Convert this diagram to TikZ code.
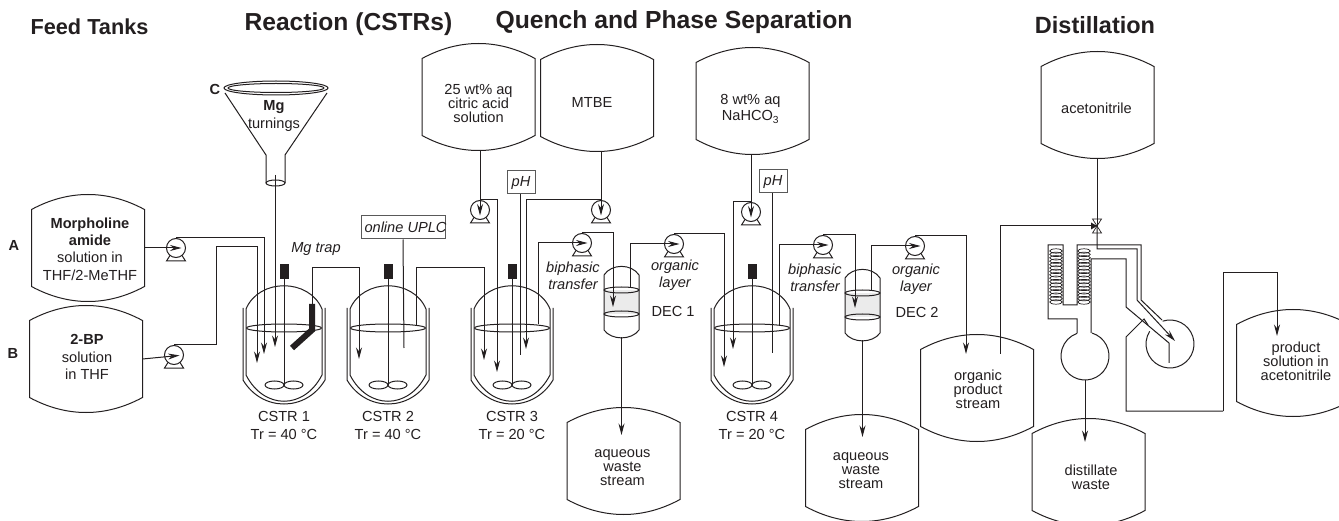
\documentclass[tikz,border=0pt]{standalone}
\usepackage{fontspec}
\setmainfont{Liberation Sans}
\usetikzlibrary{calc, arrows.meta, shapes.geometric}
\definecolor{ink}{HTML}{231F20}
\tikzset{
    heading/.style={font=\fontsize{#1}{26}\selectfont\bfseries, text=ink},
    tanktext/.style={font=\fontsize{14.6}{14}\selectfont, align=center, text=ink},
    roomy/.style={font=\fontsize{14.6}{17.3}\selectfont, align=center, text=ink},
    slanted/.style={font=\fontsize{14.6}{17}\selectfont\itshape, align=center, text=ink},
    tankbox/.style={minimum width=112, minimum height=106, inner sep=0},
    level/.style={draw, ellipse, minimum width=75, minimum height=8, inner sep=0},
    motor/.style={fill=ink, minimum width=9, minimum height=15, inner sep=0},
    pumphead/.style={draw, circle, minimum size=19, inner sep=0},
    probe/.style={draw=black!65, inner sep=0, font=\fontsize{14.6}{17}\selectfont\itshape, text=ink},
    flow/.style={-{Stealth[length=11.5pt, width=6pt]}},
    into/.style={flow, shorten >=4.5pt}
}
\newcommand{\tank}[5]{
    \node[tankbox] (T_#1) at (#2,#3) {};
    \draw ($(T_#1.north west)+(0,15)$) .. controls +(37,-20) and +(-37,-20) .. ($(T_#1.north east)+(0,15)$)
        -- ($(T_#1.south east)+(0,-15)$) .. controls +(-37,20) and +(37,20) .. ($(T_#1.south west)+(0,-15)$) -- cycle;
    \node[tanktext] (X_#1) at ($(T_#1)+(#4)$) {#5};
}
\newcommand{\pump}[3]{
    \node[pumphead] (P_#1) at (#2,#3) {};
    \draw ($(P_#1)+(-6,7.5)$) -- ($(P_#1)+(-9.5,13)$) -- ($(P_#1)+(9.5,13)$) -- ($(P_#1)+(6,7.5)$);
}
\newcommand{\cstr}[4]{
    \begin{scope}[shift={(#2,328)}]
        \node[level] (C_#1) at (0,0) {};
        \node[motor] (M_#1) at (0,-56.5) {};
        \coordinate (H_#1) at (0,57);
        \draw (-41,-20) -- (-41,52) .. controls (-22,84) and (22,84) .. (41,52) -- (41,-20);
        \draw (-38,-19) .. controls (-25,-50) and (25,-50) .. (38,-19) -- (38,47)
            .. controls (20,82) and (-20,82) .. (-38,47) -- cycle;
        \draw (M_#1) -- (H_#1);
        \draw (H_#1) ++(-19,0) arc[start angle=180, delta angle=360, x radius=9.5, y radius=4];
        \draw (H_#1) ++(0,0) arc[start angle=180, delta angle=360, x radius=9.5, y radius=4];
        \node[roomy] (N_#1) at (0,97.5) {CSTR #3\\Tr = #4 °C};
    \end{scope}
}
\newcommand{\decanter}[3]{
    \begin{scope}[shift={(#2,#3)}]
        \node[minimum width=35, minimum height=71, inner sep=0] (D_#1) at (0,0) {};
        \fill[black!8] (-17.5,-11.5) rectangle (17.5,12.5);
        \draw (-17.5,-26.5) .. controls (-10,-38) and (10,-38) .. (17.5,-26.5) -- (17.5,28.5)
            .. controls (10,39) and (-10,39) .. (-17.5,28.5) -- cycle;
        \draw (0,-11.5) ellipse [x radius=17.5, y radius=3];
        \draw (0,12.5) ellipse [x radius=17.5, y radius=3];
    \end{scope}
}
\newcommand{\coil}[2]{
    \foreach \turn in {0,...,15} {
        \draw[line width=.7pt] (#1,#2+\turn*3.4) ellipse [x radius=6.3, y radius=2.2];
    }
}
\begin{document}
\begin{tikzpicture}[x=1pt, y=-1pt, line width=1pt, draw=ink]
            \path[use as bounding box, clip] (0,0) rectangle (1339,521);
            \fill[white] (0,0) rectangle (1339,521);
            \node[heading=21.7] (H_F) at (89.5,27) {Feed Tanks};
            \node[heading=24.6] (H_R) at (348.5,24) {Reaction (CSTRs)};
            \node[heading=24.7] (H_Q) at (674,22) {Quench and Phase Separation};
            \node[heading=23.5] (H_D) at (1095,25) {Distillation};
            \tank{A}{88}{248}{2,1}{\textbf{Morpholine}\\[3.3pt]\textbf{amide}\\[3.3pt]solution in\\[3.3pt]THF/2-MeTHF}
            \tank{B}{86}{359}{1,-2}{\textbf{2-BP}\\[3.3pt]solution\\[3.3pt]in THF}
            \tank{CA}{478.5}{97}{0,6}{25 wt\% aq\\citric acid\\solution}
            \tank{MT}{597}{98}{-5,4}{MTBE}
            \tank{NA}{752.5}{101}{-2,8}{8 wt\% aq\\[2pt]NaHCO\textsubscript{3}}
            \tank{AN}{1097.5}{105}{-1,3}{acetonitrile}
            \tank{W1}{623.5}{461}{-1,7}{aqueous\\waste\\stream}
            \tank{W2}{862}{468}{-1,3}{aqueous\\waste\\stream}
            \tank{OP}{977}{388}{1,1}{organic\\product\\stream}
            \tank{DW}{1088.5}{472}{2.5,5}{distillate\\waste}
            \tank{PS}{1293}{363}{3,-2}{product\\solution in\\acetonitrile}
            \node[font=\fontsize{14.6}{17}\selectfont\bfseries, text=ink] (L_A) at (14,245) {A};
            \node[font=\fontsize{14.6}{17}\selectfont\bfseries, text=ink] (L_B) at (13,353) {B};
            \cstr{1}{284}{1}{40}
            \cstr{2}{388}{2}{40}
            \cstr{3}{512}{3}{20}
            \cstr{4}{752}{4}{20}
            \decanter{1}{621.5}{301.5}
            \decanter{2}{862.5}{304.5}
            \pump{A}{176}{248}
            \pump{B}{174}{355}
            \pump{CA}{480}{210}
            \pump{MT}{601}{210}
            \pump{B1}{582}{243}
            \pump{O1}{674}{244}
            \pump{NA}{751}{212}
            \pump{B2}{823}{245}
            \pump{O2}{915}{246}
            \draw (225,93) -- (266,155) -- (266,183);
            \draw (327,93) -- (285,155) -- (285,183);
            \draw (276,88) ellipse [x radius=52, y radius=7];
            \draw (276,88) ellipse [x radius=48, y radius=4.5];
            \draw (275.5,183) ellipse [x radius=9.5, y radius=3];
            \node[font=\fontsize{14.6}{17}\selectfont\bfseries, text=ink] (F_C) at (215,89) {C};
            \node[roomy] (F_M) at (274,116) {\textbf{Mg}\\turnings};
            \node[slanted] (N_T) at (316,249) {Mg trap};
            \node[probe, minimum width=84, minimum height=23] (U) at (403,227.5) {};
            \node[slanted] (N_U) at (405.5,227) {online UPLC};
            \node[probe, minimum width=28, minimum height=23] (Q_3) at (521,182.5) {pH};
            \node[probe, minimum width=28, minimum height=23] (Q_4) at (773,181.5) {pH};
            \node[slanted] (N_B1) at (573,275.5) {biphasic\\transfer};
            \node[slanted] (N_O1) at (675,275.5) {organic\\layer};
            \node[roomy] (N_D1) at (673,311) {DEC 1};
            \node[slanted] (N_B2) at (815,277.5) {biphasic\\transfer};
            \node[slanted] (N_O2) at (916,279.5) {organic\\layer};
            \node[roomy] (N_D2) at (917,312) {DEC 2};
            \draw[line width=6pt] (312,304) -- (312,330) -- (292,348);
            \coordinate (I_A) at (264,354);
            \coordinate (I_B) at (257,363);
            \coordinate (I_M) at (275,347);
            \coordinate (I_2) at (359,359);
            \coordinate (I_3) at (484,360);
            \coordinate (I_C) at (497,372);
            \coordinate (I_T) at (526,349);
            \coordinate (I_D1) at (613,307);
            \coordinate (I_4) at (724,367);
            \coordinate (I_N) at (733,349);
            \coordinate (I_D2) at (855,308);
            \coordinate (I_O) at (966,354);
            \coordinate (I_F) at (1175,341);
            \coordinate (I_P) at (1277,336);
            \coordinate (V) at (1097,226);
            \draw[into] (T_A.east) -- (P_A.east);
            \draw[into] (T_B.east) -- (P_B.east);
            \draw[flow] (P_A.north) -| (I_A);
            \draw[flow] (P_B.north) -| (216,247) -| (I_B);
            \draw[flow] (275,175) -- (I_M);
            \draw (312,304) |- (359,268);
            \draw[flow] (312,268) -| (I_2);
            \draw (U.south) -- (404,348);
            \draw[flow] ($(C_2)+(28,-3)$) |- (484,268) -- (I_3);
            \draw[into] (P_CA |- T_CA.south) -- (P_CA.south);
            \draw[flow] (P_CA.north) -| (I_C);
            \draw (Q_3.south -| 520,0) -- (520,355);
            \draw[into] (P_MT |- T_MT.south) -- (P_MT.south);
            \draw[flow] (P_MT.north) -| (I_T);
            \draw[into] ($(C_3)+(26,-4)$) |- (P_B1.east);
            \draw[flow] (P_B1.north) -| (I_D1);
            \draw[into] (630,287) |- (P_O1.east);
            \draw[flow] (P_O1.north) -| (I_4);
            \draw[flow] (D_1.south) -- (621.5,435);
            \draw[into] (P_NA |- T_NA.south) -- (P_NA.south);
            \draw[flow] (P_NA.north) -| (I_N);
            \draw (Q_4.south -| 772,0) -- (772,353);
            \draw[into] ($(C_4)+(27,-3)$) |- (P_B2.east);
            \draw[flow] (P_B2.north) -| (I_D2);
            \draw[into] (871,290) |- (P_O2.east);
            \draw[flow] (P_O2.north) -| (I_O);
            \draw[flow] (D_2.south) -- (862.5,437);
            \draw (1000,354) |- (V);
            \draw (T_AN.south -| V) -- (V);
            \draw[flow] (V) |- (1137,249) -- (1137,300) -- (I_F);
            \draw[line width=.7pt] (1092.5,219) -- (1101.5,233) -- (1092.5,233) -- (1101.5,219) -- cycle;
            \fill[ink] (1091,222.5) -- (1091,229.5) -- (1097,226) -- cycle;
            \coil{1056}{251}
            \coil{1084}{251}
            \draw (1162,320) -- (1141,300) -- (1141,245) -- (1077,245) -- (1077,305) -- (1063,305) -- (1063,245) -- (1048,245) -- (1048,319) -- (1077,319) -- (1077,333);
            \draw (1091,333) -- (1091,259) -- (1126,259) -- (1126,307) -- (1169,343) -- (1169,363);
            \coordinate (F_A) at (1085,356);
            \coordinate (F_B) at (1170,344);
            \draw ($(F_A)+(287:24)$) arc[start angle=287, end angle=611, radius=24];
            \draw ($(F_B)+(252:24)$) arc[start angle=252, end angle=572, radius=24];
            \draw (1148,325) -- (1144,319) -- (1126,337) |- (1223,411);
            \draw[flow] (1223,411) |- (1277,273) -- (I_P);
            \draw[flow] (F_A |- 0,380) -- (1085,442);
        \end{tikzpicture}
\end{document}
